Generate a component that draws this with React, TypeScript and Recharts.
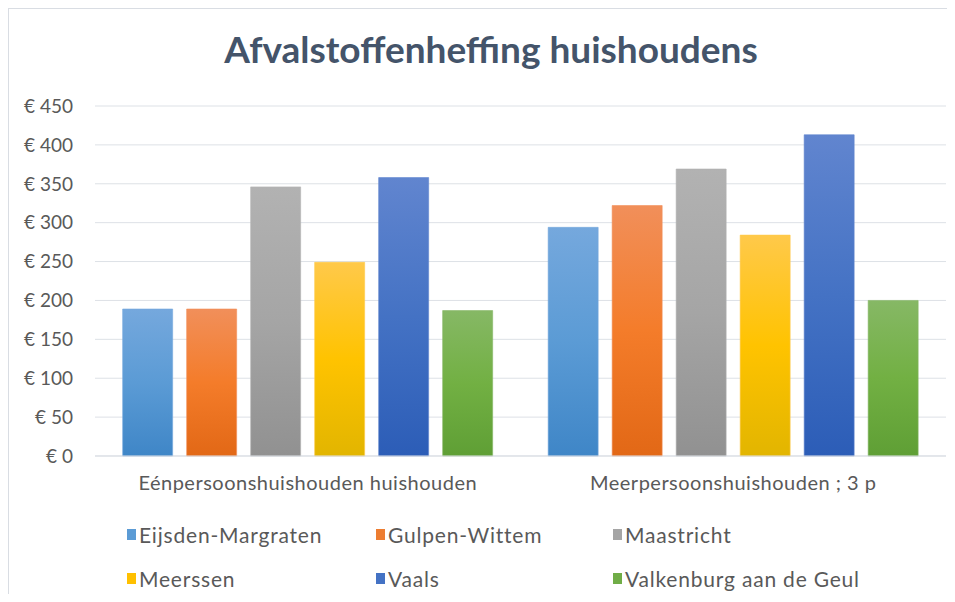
import { BarChart, Bar, XAxis, YAxis, CartesianGrid, Legend } from "recharts";

const categories = [
  "Eénpersoonshuishouden huishouden",
  "Meerpersoonshuishouden ; 3 p",
];
const gemeenten = [
  "Eijsden-Margraten",
  "Gulpen-Wittem",
  "Maastricht",
  "Meerssen",
  "Vaals",
  "Valkenburg aan de Geul",
];
const eijsdenMargraten = [189, 294];
const gulpenWittem = [189, 322];
const maastricht = [346, 369];
const meerssen = [249, 284];
const vaals = [358, 413];
const valkenburg = [187, 200];
const yTicks = [0, 50, 100, 150, 200, 250, 300, 350, 400, 450];

const series = [eijsdenMargraten, gulpenWittem, maastricht, meerssen, vaals, valkenburg];

// top / middle / bottom of the excel-style gradient, plus the legend colour
const kleuren = [
  { top: "#75a8dd", mid: "#5b9bd5", bottom: "#3f86c7", base: "#5b9bd5" },
  { top: "#f18f5a", mid: "#f47c2a", bottom: "#e26816", base: "#ed7d31" },
  { top: "#b2b2b2", mid: "#a5a5a5", bottom: "#919191", base: "#a5a5a5" },
  { top: "#ffc94a", mid: "#ffc300", bottom: "#e2b500", base: "#ffc000" },
  { top: "#6185cf", mid: "#4472c4", bottom: "#2c5db7", base: "#4472c4" },
  { top: "#86b865", mid: "#72b043", bottom: "#5f9f35", base: "#70ad47" },
];

const data = categories.map((name, i) => {
  const row: Record<string, string | number> = { name };
  gemeenten.forEach((g, s) => {
    row[g] = series[s][i];
  });
  return row;
});

const font = "Lato, 'Open Sans', sans-serif";

const renderLegend = () => (
  <div style={{ position: "relative", width: 939, height: 70, fontFamily: font }}>
    {gemeenten.map((g, i) => {
      const col = i % 3;
      const row = Math.floor(i / 3);
      const left = [118, 367, 604][col];
      return (
        <div
          key={g}
          style={{
            position: "absolute",
            left,
            top: row * 44,
            display: "flex",
            alignItems: "center",
            fontSize: 21,
            letterSpacing: 0.8,
            color: "#595959",
            whiteSpace: "nowrap",
          }}
        >
          <span
            style={{
              display: "inline-block",
              width: 9,
              height: 11,
              background: kleuren[i].base,
              marginRight: 3,
            }}
          />
          {g}
        </div>
      );
    })}
  </div>
);

export default function App() {
  return (
    <div
      style={{
        position: "relative",
        width: 939,
        height: 586,
        borderTop: "1px solid #d9dde3",
        borderLeft: "1px solid #d9dde3",
        boxSizing: "border-box",
        background: "#fff",
      }}
    >
      <div
        style={{
          position: "absolute",
          top: 17,
          left: 0,
          width: 964,
          textAlign: "center",
          fontFamily: font,
          fontWeight: 700,
          fontSize: 37,
          color: "#44546a",
        }}
      >
        Afvalstoffenheffing huishoudens
      </div>
      <BarChart
        width={938}
        height={585}
        data={data}
        margin={{ top: 97, right: 1, left: 0, bottom: 38 }}
        barCategoryGap="6.5%"
        barGap={14}
      >
        <defs>
          {kleuren.map((k, i) => (
            <linearGradient key={i} id={`grad${i}`} x1="0" y1="0" x2="0" y2="1">
              <stop offset="0%" stopColor={k.top} />
              <stop offset="50%" stopColor={k.mid} />
              <stop offset="100%" stopColor={k.bottom} />
            </linearGradient>
          ))}
        </defs>
        <CartesianGrid vertical={false} stroke="#dde1e6" />
        <XAxis
          dataKey="name"
          axisLine={{ stroke: "#d9dde3" }}
          tickLine={false}
          tickSize={0}
          tickMargin={20}
          tick={{ fill: "#595959", fontSize: 20, letterSpacing: 0.5, fontFamily: font }}
        />
        <YAxis
          width={86}
          domain={[0, 450]}
          ticks={yTicks}
          axisLine={false}
          tickLine={false}
          tickSize={0}
          tickMargin={22}
          tickFormatter={(v: number) => `€ ${v}`}
          tick={{ fill: "#595959", fontSize: 19, fontFamily: font }}
        />
        <Legend
          content={renderLegend}
          wrapperStyle={{ position: "absolute", left: 0, top: 513, width: 939 }}
        />
        {gemeenten.map((g, i) => (
          <Bar
            key={g}
            dataKey={g}
            fill={`url(#grad${i})`}
            stroke={kleuren[i].top}
            strokeOpacity={0.6}
            isAnimationActive={false}
          />
        ))}
      </BarChart>
    </div>
  );
}
